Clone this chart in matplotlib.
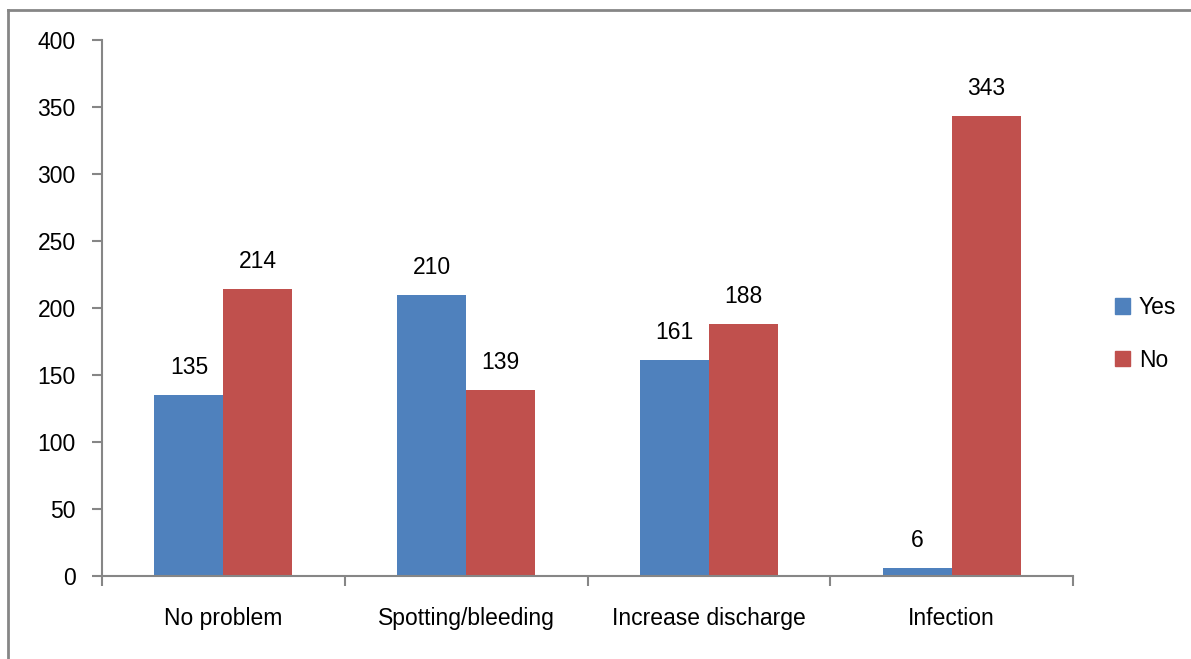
import matplotlib.pyplot as plt
from matplotlib.lines import Line2D
from matplotlib.patches import Patch
import numpy as np

categories = ["No problem", "Spotting/bleeding", "Increase discharge", "Infection"]
yes_vals = [135, 210, 161, 6]
no_vals = [214, 139, 188, 343]

plt.rcParams['font.family'] = ['Liberation Sans', 'DejaVu Sans']
grey = '#868686'
blue = '#4f81bd'
red = '#c0504d'
fs = 16.5

fig = plt.figure(figsize=(11.91, 6.59), dpi=100)
ax = fig.add_axes([102/1191, 1 - 576/659, (1073-102)/1191, (576-40)/659])

x = np.arange(len(categories))
w = 0.284
b1 = ax.bar(x - w/2, yes_vals, w, color=blue, label="Yes")
b2 = ax.bar(x + w/2, no_vals, w, color=red, label="No")
for bars, vals in ((b1, yes_vals), (b2, no_vals)):
    for r, v in zip(bars, vals):
        ax.text(r.get_x() + r.get_width()/2, v + 12, str(v), ha='center', va='bottom', fontsize=fs)

ax.set_xlim(-0.5, len(categories) - 0.5)
ax.set_ylim(0, 400)
ax.set_yticks(range(0, 401, 50))
ax.set_xticks(x)
ax.set_xticklabels(categories, fontsize=fs)
ax.set_xticks(np.arange(-0.5, len(categories), 1), minor=True)
ax.tick_params(axis='x', which='major', length=0, pad=22)
ax.tick_params(axis='x', which='minor', length=7, width=1.5, color=grey, direction='out')
ax.tick_params(axis='y', length=7, width=1.5, color=grey, labelsize=fs, pad=12)
for s in ('top', 'right'):
    ax.spines[s].set_visible(False)
for s in ('left', 'bottom'):
    ax.spines[s].set_color(grey)
    ax.spines[s].set_linewidth(1.5)

handles = [Patch(color=blue, label="Yes"), Patch(color=red, label="No")]
fig.legend(handles=handles, loc='center left', bbox_to_anchor=(1094/1191, 1 - 334/659),
           frameon=False, fontsize=fs, handlelength=0.65, handleheight=0.65,
           handletextpad=0.4, labelspacing=1.3)

# outer frame
fig.add_artist(Line2D([8/1191, 8/1191], [0, 1 - 10/659], color=grey, lw=2))
fig.add_artist(Line2D([8/1191, 1], [1 - 10/659, 1 - 10/659], color=grey, lw=2))

fig.savefig("out.png", dpi=100)
